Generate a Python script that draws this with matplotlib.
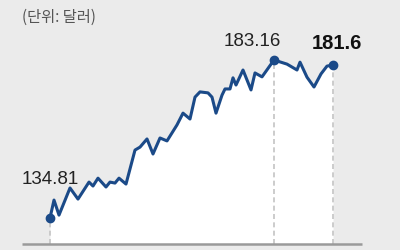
import numpy as np
import matplotlib.pyplot as plt

# Data (trading-day offset, price in USD)
days = [0, 4, 9, 20, 28, 39, 43, 48, 56, 60, 65, 69, 76, 85, 90, 97, 103, 110,
        117, 127, 133, 140, 145, 150, 158, 162, 166, 172, 175, 180, 183, 186,
        193, 201, 205, 212, 224, 237, 247, 250, 257, 264, 271, 277, 283]
prices = [134.81, 140.3, 135.7, 144.0, 140.6, 145.8, 144.6, 147.0, 144.3, 145.8,
          145.5, 147.0, 145.2, 155.6, 156.5, 159.0, 154.4, 159.3, 158.4, 163.3,
          166.9, 165.1, 171.8, 173.4, 173.1, 171.8, 166.9, 172.4, 174.3, 174.3,
          177.7, 175.5, 180.1, 174.0, 179.2, 178.0, 183.16, 181.9, 180.1, 182.5,
          177.9, 174.9, 178.9, 181.3, 181.6]
labels = ['134.81', '183.16', '181.6']
unit_text = '(단위: 달러)'

bg = '#ebebeb'
line_color = '#1b4a88'
base = 126.85

fig = plt.figure(figsize=(4, 2.5), dpi=100, facecolor=bg)
ax = fig.add_axes([0, 0, 1, 1])
ax.set_facecolor(bg)
ax.set_xlim(-50, 350)
ax.set_ylim(125.02, 201.52)
ax.axis('off')

x = np.array(days)
y = np.array(prices)

ax.fill_between(x, y, base, color='white', lw=0, zorder=1)

# dashed guides for labelled points
i_peak = int(np.argmax(y))
for i in [0, i_peak, len(x) - 1]:
    ax.plot([x[i], x[i]], [base, y[i]], color='#c4c4c4', lw=1.2,
            ls=(0, (3, 2)), zorder=2)

ax.plot([-28, 312], [base, base], color='#9a9a9a', lw=1.8, zorder=3,
        solid_capstyle='butt')

ax.plot(x, y, color=line_color, lw=2.2, zorder=4, solid_joinstyle='round')
ax.plot(x[[0, i_peak, -1]], y[[0, i_peak, -1]], 'o', color=line_color,
        ms=6, zorder=5)

num_font = ['Liberation Sans Narrow', 'Liberation Sans', 'DejaVu Sans']
ax.text(x[0] - 28, y[0] + 11.9, labels[0], fontsize=13.5, family=num_font,
        color='#222222', ha='left', va='center')
ax.text(x[i_peak] + 7, y[i_peak] + 5.6, labels[1], fontsize=13.5, family=num_font,
        color='#222222', ha='right', va='center')
ax.text(x[-1] + 4, y[-1] + 6.5, labels[2], fontsize=14.5, family=num_font,
        weight='bold', color='#111111', ha='center', va='center')

fig.text(22 / 400, 1 - 17 / 250, unit_text, fontsize=11,
         family=['Noto Sans CJK KR', 'DejaVu Sans'], color='#555555',
         ha='left', va='center')

fig.savefig('out.png', dpi=100, facecolor=bg)
